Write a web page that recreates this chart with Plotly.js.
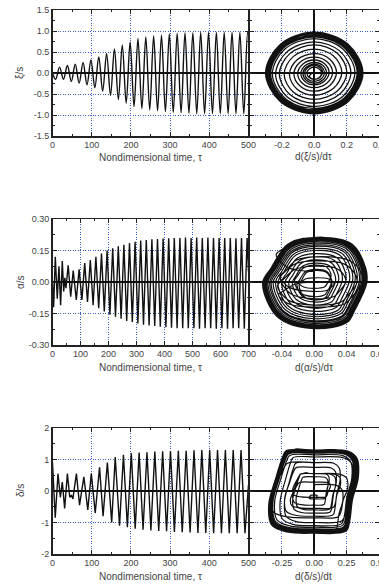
<!DOCTYPE html>
<html>
<head>
<meta charset="utf-8">
<script src="https://cdn.plot.ly/plotly-3.0.1.min.js"></script>
<style>html,body{margin:0;padding:0;background:#fff;}#chart{width:379px;height:586px;}</style>
</head>
<body>
<div id="chart"></div>
<script>
// ---------- data (times of the turning points and their values) ----------
const tXi = [0,8,18,28,38,48,58,68,78,88,98,108,118,128,138,148,158,168,178,188,198,208,218,228,238,248,258,268,278,288,298,308,318,328,338,348,358,368,378,388,398,408,418,428,438,448,458,468,478,488,498,500];
const xiVals = [0,-0.15,0.14,-0.15,0.18,-0.2,0.21,-0.24,0.25,-0.28,0.31,-0.35,0.38,-0.43,0.46,-0.53,0.57,-0.63,0.67,-0.72,0.74,-0.8,0.82,-0.85,0.86,-0.88,0.88,-0.9,0.9,-0.92,0.93,-0.94,0.95,-0.95,0.96,-0.96,0.96,-0.97,0.97,-0.97,0.97,-0.97,0.97,-0.97,0.97,-0.97,0.97,-0.97,0.97,-0.97,0.97,0.93];

const tAlpha = [0,4,10,17,23,29,35,40,44,48,56,65,74,85,95,105,115,125,135,145,155,165,175,185,195,205,215,225,235,245,255,265,275,285,295,305,315,325,335,345,355,365,375,385,395,405,415,425,435,445,455,465,475,485,495,505,515,525,535,545,555,565,575,585,595,605,615,625,635,645,655,665,675,685,695,700];
const alphaVals = [0,-0.12,0.12,-0.08,0.075,-0.11,0.10,-0.045,0.02,-0.03,0.08,-0.07,0.055,-0.085,0.06,-0.085,0.09,-0.095,0.105,-0.11,0.12,-0.125,0.135,-0.14,0.15,-0.155,0.16,-0.165,0.17,-0.175,0.177,-0.185,0.185,-0.19,0.192,-0.197,0.197,-0.203,0.2,-0.207,0.203,-0.21,0.205,-0.213,0.207,-0.215,0.208,-0.218,0.21,-0.22,0.21,-0.22,0.212,-0.22,0.21,-0.22,0.212,-0.222,0.21,-0.22,0.212,-0.22,0.21,-0.222,0.21,-0.22,0.21,-0.222,0.21,-0.22,0.208,-0.22,0.21,-0.222,0.21,0.05];

const tDelta = [0,7,14,20,25,31,38,44,48,52,61,69,80,90,99,109,120,129,140,151,160,171,181,191,201,211,221,231,241,251,261,271,281,291,301,311,321,331,341,351,361,371,381,391,401,411,421,431,441,451,461,471,481,491,500];
const deltaVals = [0.9,-0.85,0.55,-0.2,0.28,-0.55,0.55,-0.2,-0.13,-0.25,0.55,-0.45,0.45,-0.6,0.55,-0.7,0.75,-0.8,0.9,-1.0,1.08,-1.1,1.15,-1.15,1.2,-1.2,1.22,-1.23,1.23,-1.25,1.25,-1.27,1.26,-1.28,1.27,-1.3,1.28,-1.31,1.28,-1.32,1.29,-1.33,1.3,-1.33,1.3,-1.34,1.3,-1.34,1.3,-1.34,1.3,-1.34,1.3,-1.34,0.2];

// ratio of the phase-loop width to the mean slope of each half swing (read from the portraits)
const kXi = 1.55, kAlpha = 1.5, kDelta = 1.33;

// loop outlines read from the phase portraits (normalised), falling half then rising half
const xiFallU = [0,-0.7,-1,-0.7,0],  xiFallV = [1,0.7,0,-0.7,-1];
const xiRiseU = [0,0.7,1,0.7,0],     xiRiseV = [-1,-0.7,0,0.7,1];
const alFallU = [0,-0.49,-0.63,-0.82,-0.98,-0.69,0], alFallV = [1,0.86,0.69,0.33,0,-0.75,-1];
const alRiseU = [0,0.63,0.77,1.0,0.98,0.71,0],       alRiseV = [-1,-0.86,-0.6,0,0.33,0.86,1];
const deFallU = [0,-0.62,-0.7,-0.84,-1.0,-0.94,-0.6,0], deFallV = [1,0.98,0.82,0.35,-0.3,-0.8,-0.97,-1];
const deRiseU = [0,0.7,0.78,0.84,0.97,0.94,0.75,0],     deRiseV = [-1,-0.95,-0.7,-0.2,0.35,0.8,0.97,1];

// tick labels
const time500Ticks = [0,100,200,300,400,500], time500Text = ['0','100','200','300','400','500'];
const time700Ticks = [0,100,200,300,400,500,600,700], time700Text = ['0','100','200','300','400','500','600','700'];
const xiTicks = [-1.5,-1,-0.5,0,0.5,1,1.5], xiText = ['-1.5','-1.0','-0.5','0.0','0.5','1.0','1.5'];
const dxiTicks = [-0.2,0,0.2,0.4], dxiText = ['-0.2','0.0','0.2','0.4'];
const alphaTicks = [-0.3,-0.15,0,0.15,0.3], alphaText = ['-0.30','-0.15','0.00','0.15','0.30'];
const dalphaTicks = [-0.04,0,0.04,0.08], dalphaText = ['-0.04','0.00','0.04','0.08'];
const deltaTicks = [-2,-1,0,1,2], deltaText = ['-2','-1','0','1','2'];
const ddeltaTicks = [-0.25,0,0.25,0.5], ddeltaText = ['-0.25','0.00','0.25','0.50'];

// ---------- build phase loops from the turning points ----------
function phase(t, e, k, fu, fv, ru, rv) {
  const xs = [], ys = [];
  for (let i = 0; i < e.length - 1; i++) {
    const slope = (e[i+1] - e[i]) / (t[i+1] - t[i]);
    const d = Math.abs(k * slope);
    const hi = Math.max(e[i], e[i+1]), lo = Math.min(e[i], e[i+1]);
    const fall = e[i+1] < e[i];
    const U = fall ? fu : ru, V = fall ? fv : rv;
    for (let j = (i === 0 ? 0 : 1); j < U.length; j++) {
      xs.push(U[j] * d);
      ys.push(lo + (hi - lo) * (V[j] + 1) / 2);
    }
  }
  return {x: xs, y: ys};
}
const pXi = phase(tXi, xiVals, kXi, xiFallU, xiFallV, xiRiseU, xiRiseV);
const pAl = phase(tAlpha, alphaVals, kAlpha, alFallU, alFallV, alRiseU, alRiseV);
const pDe = phase(tDelta, deltaVals, kDelta, deFallU, deFallV, deRiseU, deRiseV);

const lc = '#111';
const traces = [
  {x: tXi, y: xiVals, xaxis:'x', yaxis:'y', mode:'lines', line:{color:lc, width:1.4, shape:'spline', smoothing:1}},
  {x: pXi.x, y: pXi.y, xaxis:'x2', yaxis:'y2', mode:'lines', line:{color:lc, width:1.3, shape:'spline', smoothing:1}},
  {x: tAlpha, y: alphaVals, xaxis:'x3', yaxis:'y3', mode:'lines', line:{color:lc, width:1.4}},
  {x: pAl.x, y: pAl.y, xaxis:'x4', yaxis:'y4', mode:'lines', line:{color:lc, width:1.2, shape:'spline', smoothing:1}},
  {x: tDelta, y: deltaVals, xaxis:'x5', yaxis:'y5', mode:'lines', line:{color:lc, width:1.4}},
  {x: pDe.x, y: pDe.y, xaxis:'x6', yaxis:'y6', mode:'lines', line:{color:lc, width:1.2, shape:'spline', smoothing:1}}
];

const W = 379, H = 586;
const fx = p => p / W, fy = p => 1 - p / H;
const LX = [fx(52.5), fx(248.5)], RX = [fx(249.5), 1];
const Y1 = [fy(136), fy(10)], Y2 = [fy(345), fy(219)], Y3 = [fy(554), fy(428)];

function ax(domain, anchor, range, tv, tt, minorStep, labels) {
  return {
    domain: domain, anchor: anchor, range: range,
    tickmode: 'array', tickvals: tv, ticktext: tt, showticklabels: labels,
    ticklabeloverflow: 'allow',
    showline: true, mirror: 'allticks', linecolor: '#222', linewidth: 1.5,
    ticks: 'inside', ticklen: 4, tickwidth: 1, tickcolor: '#222',
    showgrid: true, gridcolor: '#3a5fc0', griddash: '1px,1.5px', gridwidth: 1,
    zeroline: true, zerolinecolor: '#111', zerolinewidth: 1.6,
    tickfont: {family: 'Liberation Sans, Arial, sans-serif', size: 9, color: '#444'},
    minor: {dtick: minorStep, tick0: 0, ticks: 'inside', ticklen: 2, tickcolor: '#222', showgrid: false},
    fixedrange: true, layer: 'above traces'
  };
}

const tf = {family: 'Liberation Sans, Arial, sans-serif', size: 10, color: '#444'};
function ann(text, px, py, rot) {
  return {text: text, x: fx(px), y: fy(py), xref: 'paper', yref: 'paper', showarrow: false,
          xanchor: 'center', yanchor: 'middle', textangle: rot || 0, font: tf};
}

const layout = {
  width: W, height: H, margin: {l:0, r:0, t:0, b:0}, showlegend: false,
  paper_bgcolor: '#fff', plot_bgcolor: '#fff',
  xaxis:  ax(LX, 'y',  [0,500], time500Ticks, time500Text, 50, true),
  yaxis:  ax(Y1, 'x',  [-1.5,1.5], xiTicks, xiText, 0.25, true),
  xaxis2: ax(RX, 'y2', [-0.4,0.4], dxiTicks, dxiText, 0.1, true),
  yaxis2: ax(Y1, 'x2', [-1.5,1.5], xiTicks, xiText, 0.25, false),
  xaxis3: ax(LX, 'y3', [0,700], time700Ticks, time700Text, 50, true),
  yaxis3: ax(Y2, 'x3', [-0.3,0.3], alphaTicks, alphaText, 0.075, true),
  xaxis4: ax(RX, 'y4', [-0.08,0.08], dalphaTicks, dalphaText, 0.02, true),
  yaxis4: ax(Y2, 'x4', [-0.3,0.3], alphaTicks, alphaText, 0.075, false),
  xaxis5: ax(LX, 'y5', [0,500], time500Ticks, time500Text, 50, true),
  yaxis5: ax(Y3, 'x5', [-2,2], deltaTicks, deltaText, 0.5, true),
  xaxis6: ax(RX, 'y6', [-0.5,0.5], ddeltaTicks, ddeltaText, 0.125, true),
  yaxis6: ax(Y3, 'x6', [-2,2], deltaTicks, deltaText, 0.5, false),
  annotations: [
    ann('ξ/s', 20, 73, -90), ann('α/s', 20, 282, -90), ann('δ/s', 20, 491, -90),
    ann('Nondimensional time, τ', 150, 157), ann('d(ξ/s)/dτ', 313.5, 157),
    ann('Nondimensional time, τ', 150, 367), ann('d(α/s)/dτ', 313.5, 367),
    ann('Nondimensional time, τ', 150, 576), ann('d(δ/s)/dt', 313.5, 576)
  ]
};

Plotly.newPlot('chart', traces, layout, {displayModeBar: false, staticPlot: true});
</script>
</body>
</html>
